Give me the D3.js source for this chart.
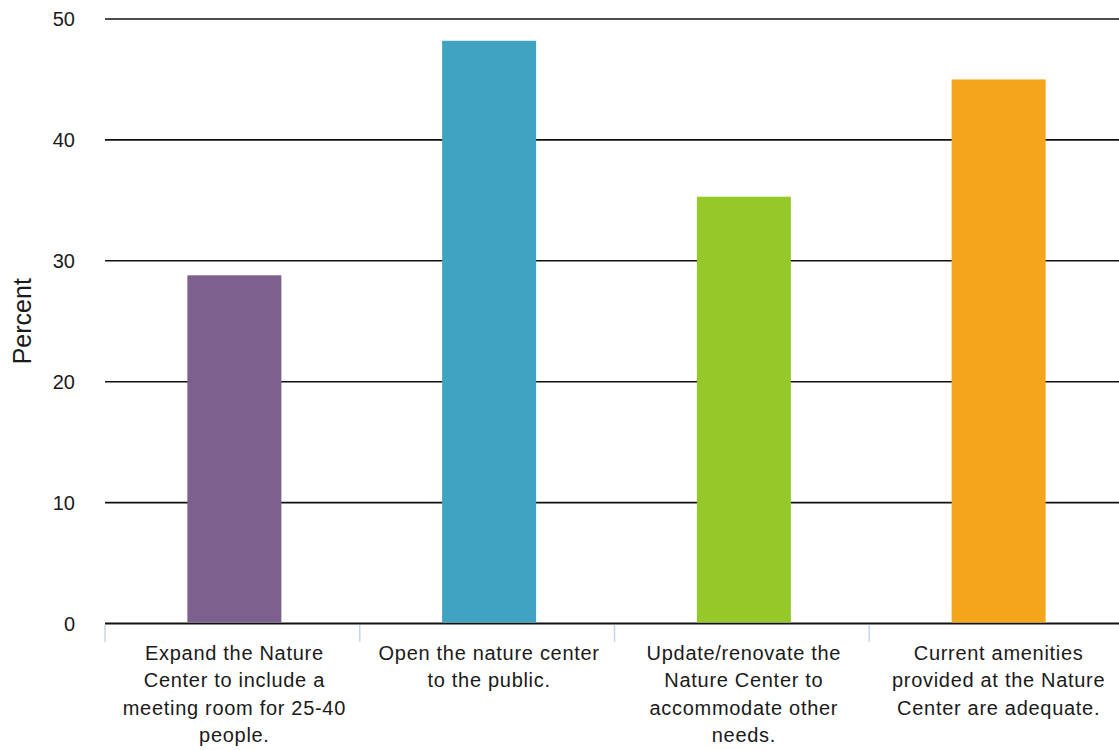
<!DOCTYPE html>
<html>
<head>
<meta charset="utf-8">
<script src="https://cdn.jsdelivr.net/npm/d3@7/dist/d3.min.js"></script>
<style>
  html, body { margin: 0; padding: 0; background: #fff; }
  svg { display: block; font-family: "Liberation Sans", Arial, Helvetica, sans-serif; }
</style>
</head>
<body>
<svg id="chart" width="1119" height="750"></svg>
<script>
const categories = [
  "Expand the Nature|Center to include a|meeting room for 25-40|people.",
  "Open the nature center|to the public.",
  "Update/renovate the|Nature Center to|accommodate other|needs.",
  "Current amenities|provided at the Nature|Center are adequate."
];
const values = [28.8, 48.2, 35.3, 45.0];
const colors = ["#7d608e", "#41a3c2", "#95c828", "#f4a51a"];
const yTicks = [0, 10, 20, 30, 40, 50];
const yLabel = "Percent";

(function() {
const svg = d3.select("#chart");
const mLeft = 105, mRight = 1124, mTop = 19, mBottom = 623.5;

const x = d3.scaleBand().domain(categories).range([mLeft + 2, mRight + 2]).paddingInner(0.631).paddingOuter(0.3155);
const xTickScale = d3.scaleBand().domain(categories).range([mLeft, mRight]);
const y = d3.scaleLinear().domain([0, 50]).range([mBottom, mTop]);

// gridlines
svg.append("g").selectAll("line").data(yTicks).join("line")
  .attr("x1", mLeft).attr("x2", 1119)
  .attr("y1", d => y(d)).attr("y2", d => y(d))
  .attr("stroke", "#111").attr("stroke-width", d => d === 0 ? 2.2 : 1.6);

// y tick labels
svg.append("g").selectAll("text").data(yTicks).join("text")
  .attr("x", 75).attr("y", d => y(d)).attr("dy", "0.35em")
  .attr("text-anchor", "end").attr("font-size", 20).attr("fill", "#1a1a1a")
  .text(d => d);

// bars
svg.append("g").selectAll("rect").data(values).join("rect")
  .attr("x", (d, i) => x(categories[i]))
  .attr("width", x.bandwidth())
  .attr("y", d => y(d))
  .attr("height", d => y(0) - y(d) - 1)
  .attr("fill", (d, i) => colors[i]);

// x tick marks
svg.append("g").selectAll("line").data(categories).join("line")
  .attr("x1", d => xTickScale(d)).attr("x2", d => xTickScale(d))
  .attr("y1", 625).attr("y2", 642)
  .attr("stroke", "#c8d4e8").attr("stroke-width", 1.5);

// category labels
const lab = svg.append("g").selectAll("text").data(categories).join("text")
  .attr("text-anchor", "middle").attr("font-size", 20).attr("fill", "#1a1a1a")
  .attr("letter-spacing", "0.7px")
  .attr("x", d => x(d) + x.bandwidth() / 2).attr("y", 660);
lab.each(function(d) {
  const t = d3.select(this);
  const cx = +t.attr("x");
  d.split("|").forEach((line, i) => {
    t.append("tspan").attr("x", cx).attr("y", 660 + i * 27.3).text(line);
  });
});

// y axis label
svg.append("text")
  .attr("transform", `translate(31,${(mTop + mBottom) / 2}) rotate(-90)`)
  .attr("text-anchor", "middle").attr("font-size", 25).attr("fill", "#1a1a1a")
  .text(yLabel);
})();
</script>
</body>
</html>
